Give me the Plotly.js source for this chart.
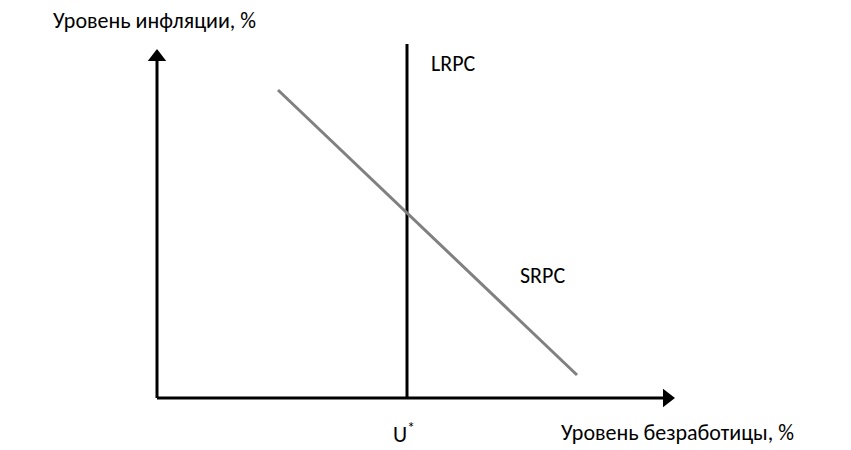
<!DOCTYPE html>
<html><head><meta charset="utf-8">
<script src="https://cdn.plot.ly/plotly-3.0.1.min.js"></script>
<style>body{margin:0;background:#fff}#c{width:851px;height:450px}</style>
</head><body><div id="c"></div>
<script>
// Schematic Phillips curve (units: arbitrary)
const uStar = 5;                 // natural unemployment
const lrpcY = [0, 7.08];         // LRPC vertical extent
const srpcX = [2.42, 8.4];       // SRPC endpoints (unemployment)
const srpcY = [6.16, 0.46];      // SRPC endpoints (inflation)
const xAxisEnd = 10.2;
const yAxisEnd = 6.82;
const labels = {
  y: 'Уровень инфляции, %',
  x: 'Уровень безработицы, %',
  lrpc: 'LRPC', srpc: 'SRPC', u: 'U<sup>*</sup>'
};

const font = {family: 'Carlito, Calibri, "Open Sans", sans-serif', size: 22, color: '#000'};

const traces = [
  // axes
  {x: [0, 0], y: [0, yAxisEnd], mode: 'lines', line: {color: '#000', width: 3}, hoverinfo: 'skip'},
  {x: [0, xAxisEnd], y: [0, 0], mode: 'lines', line: {color: '#000', width: 3}, hoverinfo: 'skip'},
  {x: [0], y: [yAxisEnd], mode: 'markers', marker: {symbol: 'triangle-up', size: 16, color: '#000'}, hoverinfo: 'skip'},
  {x: [xAxisEnd], y: [0], mode: 'markers', marker: {symbol: 'triangle-right', size: 16, color: '#000'}, hoverinfo: 'skip'},
  // curves
  {x: [uStar, uStar], y: lrpcY, mode: 'lines', line: {color: '#000', width: 3}, hoverinfo: 'skip'},
  {x: srpcX, y: srpcY, mode: 'lines', line: {color: '#808080', width: 3}, hoverinfo: 'skip'}
];

const layout = {
  width: 851, height: 450,
  margin: {l: 0, r: 0, t: 0, b: 0},
  paper_bgcolor: '#fff', plot_bgcolor: '#fff',
  showlegend: false,
  xaxis: {range: [-3.14, 13.88], visible: false, fixedrange: true},
  yaxis: {range: [-1.04, 7.96], visible: false, fixedrange: true},
  annotations: [
    {x: -0.06, y: 7.56, xref: 'x', yref: 'y', text: labels.y, showarrow: false, font: font},
    {x: 5.92, y: 6.70, xref: 'x', yref: 'y', text: labels.lrpc, showarrow: false, font: font},
    {x: 7.7, y: 2.46, xref: 'x', yref: 'y', text: labels.srpc, showarrow: false, font: font},
    {x: uStar - 0.06, y: -0.70, xref: 'x', yref: 'y', text: labels.u, showarrow: false, font: font},
    {x: 10.4, y: -0.68, xref: 'x', yref: 'y', text: labels.x, showarrow: false, font: font}
  ]
};

Plotly.newPlot('c', traces, layout, {staticPlot: true, displayModeBar: false});
</script>
</body></html>
